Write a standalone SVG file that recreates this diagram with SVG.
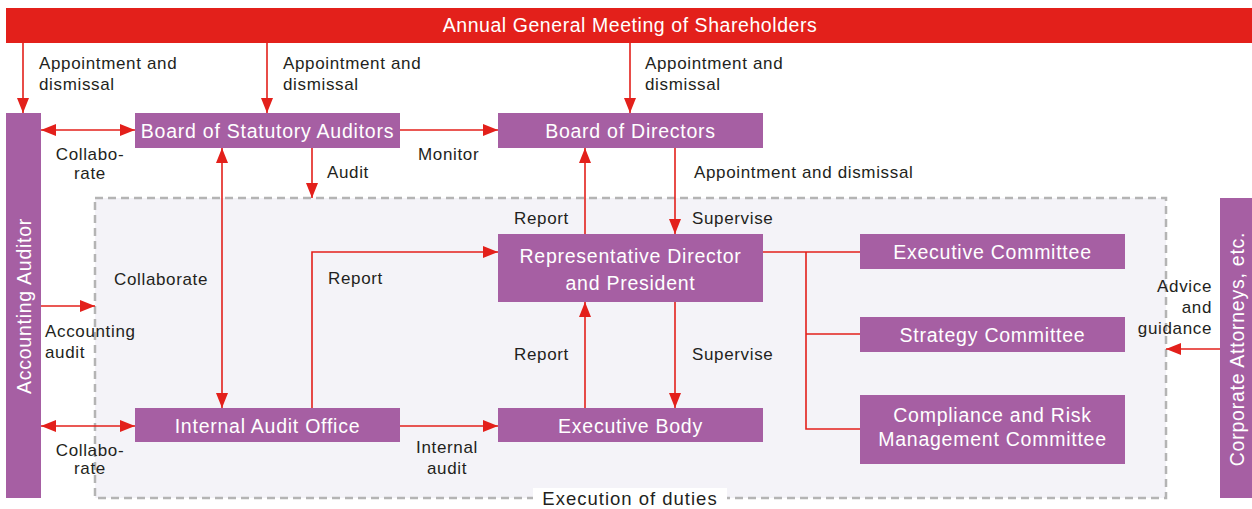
<svg xmlns="http://www.w3.org/2000/svg" width="1252" height="509" viewBox="0 0 1252 509">
  <defs>
    <style>
      .node { fill: #a65fa3; }
      .bar { fill: #e3201b; }
      .frame { fill: #f4f3f8; stroke: #b4b4b4; stroke-width: 2.5; stroke-dasharray: 8 5; }
      .wt { fill: #ffffff; font-family: "Liberation Sans", Arial, sans-serif; font-size: 19.5px; letter-spacing: 0.75px; text-anchor: middle; }
      .lbl { fill: #231f20; font-family: "Liberation Sans", Arial, sans-serif; font-size: 17px; letter-spacing: 0.65px; }
      .mid { text-anchor: middle; }
      .end { text-anchor: end; }
      .ln { stroke: #e3201b; stroke-width: 1.6; fill: none; }
      .arr { marker-end: url(#head); }
      .both { marker-start: url(#head); marker-end: url(#head); }
    </style>
    <marker id="head" markerUnits="userSpaceOnUse" markerWidth="15" markerHeight="12" refX="15" refY="6" orient="auto-start-reverse">
      <path d="M0,0 L15,6 L0,12 z" fill="#e3201b"/>
    </marker>
  </defs>

  <!-- execution-of-duties frame -->
  <rect class="frame" x="95" y="198" width="1071" height="300"/>
  <rect x="533" y="488" width="194" height="21" fill="#ffffff"/>
  <text class="lbl mid" x="630" y="505" style="font-size:18.5px;letter-spacing:1px">Execution of duties</text>

  <!-- connectors -->
  <g id="connectors">
    <line class="ln arr" x1="23" y1="43" x2="23" y2="113"/>
    <line class="ln arr" x1="267" y1="43" x2="267" y2="113"/>
    <line class="ln arr" x1="630" y1="43" x2="630" y2="113"/>
    <line class="ln both" x1="41" y1="130" x2="135" y2="130"/>
    <line class="ln arr" x1="400" y1="130" x2="498" y2="130"/>
    <line class="ln arr" x1="312" y1="148" x2="312" y2="198"/>
    <line class="ln both" x1="222" y1="148" x2="222" y2="408"/>
    <line class="ln arr" x1="585" y1="234" x2="585" y2="148"/>
    <line class="ln arr" x1="675" y1="148" x2="675" y2="234"/>
    <line class="ln arr" x1="41" y1="306" x2="95" y2="306"/>
    <line class="ln both" x1="41" y1="426" x2="135" y2="426"/>
    <polyline class="ln arr" points="312,408 312,252 498,252"/>
    <line class="ln arr" x1="400" y1="426" x2="498" y2="426"/>
    <line class="ln arr" x1="585" y1="408" x2="585" y2="302"/>
    <line class="ln arr" x1="675" y1="302" x2="675" y2="408"/>
    <line class="ln arr" x1="1220" y1="349" x2="1166" y2="349"/>
    <polyline class="ln" points="763,252 860,252"/>
    <polyline class="ln" points="806,252 806,429 860,429"/>
    <line class="ln" x1="806" y1="334" x2="860" y2="334"/>
  </g>

  <!-- connector labels -->
  <g id="labels">
    <text class="lbl" x="39" y="69">Appointment and</text>
    <text class="lbl" x="39" y="90">dismissal</text>
    <text class="lbl" x="283" y="69">Appointment and</text>
    <text class="lbl" x="283" y="90">dismissal</text>
    <text class="lbl" x="645" y="69">Appointment and</text>
    <text class="lbl" x="645" y="90">dismissal</text>
    <text class="lbl mid" x="90" y="160">Collabo-</text>
    <text class="lbl mid" x="90" y="179">rate</text>
    <text class="lbl" x="418" y="160">Monitor</text>
    <text class="lbl" x="327" y="178">Audit</text>
    <text class="lbl" x="694" y="178">Appointment and dismissal</text>
    <text class="lbl" x="514" y="224">Report</text>
    <text class="lbl" x="692" y="224">Supervise</text>
    <text class="lbl" x="114" y="285">Collaborate</text>
    <text class="lbl" x="328" y="284">Report</text>
    <text class="lbl" x="45" y="337">Accounting</text>
    <text class="lbl" x="45" y="358">audit</text>
    <text class="lbl" x="514" y="360">Report</text>
    <text class="lbl" x="692" y="360">Supervise</text>
    <text class="lbl mid" x="90" y="456">Collabo-</text>
    <text class="lbl mid" x="90" y="474">rate</text>
    <text class="lbl mid" x="447" y="453">Internal</text>
    <text class="lbl mid" x="447" y="474">audit</text>
    <text class="lbl end" x="1212" y="292">Advice</text>
    <text class="lbl end" x="1212" y="313">and</text>
    <text class="lbl end" x="1212" y="334">guidance</text>
  </g>

  <!-- nodes -->
  <g id="agm">
    <rect class="bar" x="6" y="8" width="1246" height="35"/>
    <text class="wt" x="630" y="32" style="letter-spacing:0.56px">Annual General Meeting of Shareholders</text>
  </g>
  <g id="accounting-auditor">
    <rect class="node" x="6" y="113" width="35" height="385"/>
    <text class="wt" transform="translate(31,306) rotate(-90)">Accounting Auditor</text>
  </g>
  <g id="corporate-attorneys">
    <rect class="node" x="1220" y="198" width="35" height="300"/>
    <text class="wt" transform="translate(1244,349) rotate(-90)">Corporate Attorneys, etc.</text>
  </g>
  <g id="statutory-auditors">
    <rect class="node" x="135" y="113" width="265" height="35"/>
    <text class="wt" x="267.5" y="137.5">Board of Statutory Auditors</text>
  </g>
  <g id="board-of-directors">
    <rect class="node" x="498" y="113" width="265" height="35"/>
    <text class="wt" x="630.5" y="137.5">Board of Directors</text>
  </g>
  <g id="president">
    <rect class="node" x="498" y="234" width="265" height="68"/>
    <text class="wt" x="630.5" y="263">Representative Director</text>
    <text class="wt" x="630.5" y="290">and President</text>
  </g>
  <g id="internal-audit-office">
    <rect class="node" x="135" y="408" width="265" height="34"/>
    <text class="wt" x="267.5" y="432.5">Internal Audit Office</text>
  </g>
  <g id="executive-body">
    <rect class="node" x="498" y="408" width="265" height="34"/>
    <text class="wt" x="630.5" y="432.5">Executive Body</text>
  </g>
  <g id="executive-committee">
    <rect class="node" x="860" y="234" width="265" height="35"/>
    <text class="wt" x="992.5" y="258.5">Executive Committee</text>
  </g>
  <g id="strategy-committee">
    <rect class="node" x="860" y="317" width="265" height="35"/>
    <text class="wt" x="992.5" y="341.5">Strategy Committee</text>
  </g>
  <g id="compliance-committee">
    <rect class="node" x="860" y="395" width="265" height="69"/>
    <text class="wt" x="992.5" y="422">Compliance and Risk</text>
    <text class="wt" x="992.5" y="446">Management Committee</text>
  </g>
</svg>
